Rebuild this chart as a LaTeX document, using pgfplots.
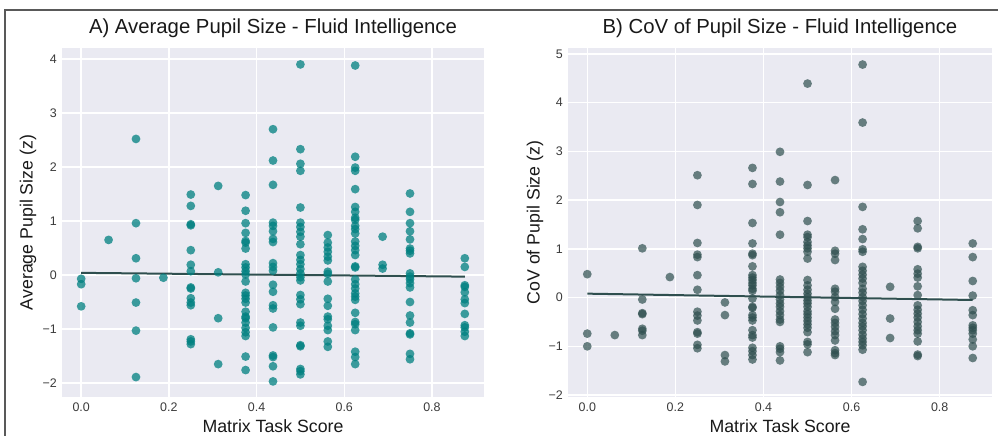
\documentclass[border=0pt]{standalone}
\usepackage{fontspec}
\setmainfont{Liberation Sans}
\usepackage{pgfplots}
\pgfplotsset{compat=1.18}
\usepackage{pgfplotstable}
\definecolor{bg}{HTML}{EAEAF2}
\definecolor{dsg}{HTML}{2F4F4F}
\definecolor{tealc}{HTML}{008080}
\definecolor{txt}{HTML}{3A3A3A}

\pgfplotstableread{
x y
0 -0.07
0 -0.17
0 -0.58
0.0625 0.65
0.125 2.52
0.125 0.96
0.125 0.31
0.125 -0.06
0.125 -0.51
0.125 -1.03
0.125 -1.89
0.1875 -0.05
0.25 1.49
0.25 1.28
0.25 0.94
0.25 0.92
0.25 0.46
0.25 0.19
0.25 0.07
0.25 -0.23
0.25 -0.25
0.25 -0.43
0.25 -0.51
0.25 -0.56
0.25 -1.19
0.25 -1.23
0.25 -1.28
0.3125 1.65
0.3125 0.05
0.3125 -0.80
0.3125 -1.65
0.375 1.48
0.375 1.19
0.375 0.96
0.375 0.78
0.375 0.63
0.375 0.60
0.375 0.49
0.375 0.20
0.375 0.14
0.375 0.07
0.375 0.01
0.375 -0.12
0.375 -0.33
0.375 -0.38
0.375 -0.44
0.375 -0.51
0.375 -0.68
0.375 -0.77
0.375 -0.80
0.375 -0.88
0.375 -0.98
0.375 -1.06
0.375 -1.13
0.375 -1.51
0.375 -1.76
0.4375 2.70
0.4375 2.12
0.4375 1.67
0.4375 0.97
0.4375 0.91
0.4375 0.81
0.4375 0.67
0.4375 0.61
0.4375 0.22
0.4375 0.15
0.4375 0.08
0.4375 -0.18
0.4375 -0.31
0.4375 -0.56
0.4375 -0.62
0.4375 -0.97
0.4375 -1.49
0.4375 -1.52
0.4375 -1.69
0.4375 -1.97
0.5 3.90
0.5 2.33
0.5 2.06
0.5 1.93
0.5 1.25
0.5 0.97
0.5 0.89
0.5 0.80
0.5 0.71
0.5 0.57
0.5 0.37
0.5 0.28
0.5 0.20
0.5 0.11
0.5 0.03
0.5 -0.04
0.5 -0.10
0.5 -0.37
0.5 -0.45
0.5 -0.54
0.5 -0.88
0.5 -0.94
0.5 -1.30
0.5 -1.32
0.5 -1.74
0.5 -1.78
0.5 -1.84
0.5625 0.74
0.5625 0.60
0.5625 0.51
0.5625 0.43
0.5625 0.34
0.5625 0.27
0.5625 0.06
0.5625 0.02
0.5625 -0.12
0.5625 -0.44
0.5625 -0.57
0.5625 -0.77
0.5625 -0.82
0.5625 -0.94
0.5625 -1.02
0.5625 -1.23
0.5625 -1.33
0.625 3.88
0.625 2.19
0.625 1.99
0.625 1.93
0.625 1.59
0.625 1.26
0.625 1.17
0.625 1.06
0.625 1.02
0.625 0.91
0.625 0.85
0.625 0.77
0.625 0.62
0.625 0.54
0.625 0.46
0.625 0.37
0.625 0.16
0.625 0.14
0.625 -0.08
0.625 -0.17
0.625 -0.25
0.625 -0.34
0.625 -0.40
0.625 -0.46
0.625 -0.70
0.625 -0.87
0.625 -0.91
0.625 -1.02
0.625 -1.42
0.625 -1.52
0.625 -1.65
0.6875 0.71
0.6875 0.19
0.6875 0.12
0.75 1.51
0.75 1.17
0.75 0.96
0.75 0.81
0.75 0.66
0.75 0.49
0.75 0.45
0.75 0.40
0.75 0.03
0.75 -0.03
0.75 -0.08
0.75 -0.15
0.75 -0.23
0.75 -0.50
0.75 -0.75
0.75 -0.88
0.75 -1.08
0.75 -1.10
0.75 -1.46
0.75 -1.56
0.875 0.31
0.875 0.15
0.875 -0.19
0.875 -0.22
0.875 -0.32
0.875 -0.45
0.875 -0.52
0.875 -0.72
0.875 -0.93
0.875 -0.97
0.875 -1.05
0.875 -1.13
}\dataA

\pgfplotstableread{
x y
0 0.48
0 -0.74
0 -1.00
0.0625 -0.77
0.125 1.01
0.125 -0.04
0.125 -0.32
0.125 -0.34
0.125 -0.64
0.125 -0.68
0.125 -0.77
0.1875 0.42
0.25 2.51
0.25 1.90
0.25 1.12
0.25 0.88
0.25 0.83
0.25 0.46
0.25 0.16
0.25 -0.29
0.25 -0.37
0.25 -0.47
0.25 -0.71
0.25 -0.74
0.25 -0.97
0.25 -1.04
0.3125 -0.10
0.3125 -0.36
0.3125 -1.18
0.3125 -1.31
0.375 2.66
0.375 2.33
0.375 1.53
0.375 1.11
0.375 0.90
0.375 0.87
0.375 0.64
0.375 0.46
0.375 0.41
0.375 0.36
0.375 0.30
0.375 0.25
0.375 0.18
0.375 0.14
0.375 -0.02
0.375 -0.19
0.375 -0.21
0.375 -0.36
0.375 -0.41
0.375 -0.47
0.375 -0.67
0.375 -0.77
0.375 -0.82
0.375 -1.03
0.375 -1.10
0.375 -1.18
0.375 -1.27
0.4375 2.99
0.4375 2.38
0.4375 1.96
0.4375 1.75
0.4375 1.29
0.4375 0.37
0.4375 0.30
0.4375 0.22
0.4375 0.14
0.4375 0.05
0.4375 -0.04
0.4375 -0.12
0.4375 -0.19
0.4375 -0.28
0.4375 -0.36
0.4375 -0.45
0.4375 -0.50
0.4375 -1.00
0.4375 -1.05
0.4375 -1.12
0.4375 -1.29
0.5 4.39
0.5 2.31
0.5 1.57
0.5 1.29
0.5 1.24
0.5 1.14
0.5 1.07
0.5 1.01
0.5 0.94
0.5 0.80
0.5 0.36
0.5 0.25
0.5 0.16
0.5 0.08
0.5 0.01
0.5 -0.06
0.5 -0.12
0.5 -0.19
0.5 -0.28
0.5 -0.34
0.5 -0.41
0.5 -0.48
0.5 -0.55
0.5 -0.62
0.5 -0.71
0.5 -0.91
0.5 -0.96
0.5 -1.12
0.5625 2.41
0.5625 0.96
0.5625 0.90
0.5625 0.77
0.5625 0.18
0.5625 0.12
0.5625 0.01
0.5625 -0.09
0.5625 -0.23
0.5625 -0.45
0.5625 -0.52
0.5625 -0.60
0.5625 -0.69
0.5625 -0.77
0.5625 -0.88
0.5625 -1.08
0.5625 -1.14
0.5625 -1.18
0.625 4.78
0.625 3.59
0.625 1.86
0.625 1.40
0.625 1.20
0.625 0.99
0.625 0.94
0.625 0.63
0.625 0.55
0.625 0.47
0.625 0.39
0.625 0.30
0.625 0.18
0.625 0.10
0.625 0.01
0.625 -0.07
0.625 -0.16
0.625 -0.25
0.625 -0.34
0.625 -0.43
0.625 -0.52
0.625 -0.59
0.625 -0.67
0.625 -0.76
0.625 -0.84
0.625 -0.91
0.625 -0.98
0.625 -1.07
0.625 -1.73
0.6875 0.22
0.6875 -0.43
0.6875 -0.83
0.75 1.57
0.75 1.42
0.75 1.04
0.75 1.01
0.75 0.58
0.75 0.49
0.75 0.41
0.75 0.23
0.75 0.05
0.75 -0.16
0.75 -0.25
0.75 -0.33
0.75 -0.41
0.75 -0.50
0.75 -0.59
0.75 -0.67
0.75 -0.74
0.75 -0.90
0.75 -1.17
0.75 -1.20
0.875 1.11
0.875 0.83
0.875 0.34
0.875 0.04
0.875 -0.26
0.875 -0.36
0.875 -0.57
0.875 -0.62
0.875 -0.67
0.875 -0.74
0.875 -0.86
0.875 -1.00
0.875 -1.24
}\dataB

\pgfplotsset{mystyle/.style={
  scale only axis,
  height=349bp,
  axis background/.style={fill=bg},
  axis line style={draw=none},
  major tick style={draw=none},
  grid=major,
  grid style={white, line width=1.4bp},
  xmin=-0.04375, xmax=0.91875,
  xtick={0,0.2,0.4,0.6,0.8},
  xticklabels={0.0,0.2,0.4,0.6,0.8},
  /pgf/number format/assume math mode=true,
  ticklabel style={font=\fontsize{12.5}{14}\selectfont, text=txt},
  xticklabel style={anchor=north, inner sep=0pt, yshift=-5.5bp},
  yticklabel style={anchor=east, inner sep=0pt, xshift=-5bp},
  title style={font=\fontsize{20.4}{24}\selectfont, text=black!90, anchor=center, at={(axis description cs:0.5,1.0401)}},
  xlabel style={font=\fontsize{17.8}{20}\selectfont, text=black!90, anchor=center, at={(axis description cs:0.5,-0.083)}},
  ylabel style={font=\fontsize{17.8}{20}\selectfont, text=black!90, anchor=center},
  clip=false,
}}

\begin{document}
\begin{tikzpicture}
\path[use as bounding box] (0,0) rectangle (998bp,436bp);
\draw[line width=1.5bp, color=black!65] (5bp,0) -- (5bp,426bp) -- (998bp,426bp);

\begin{axis}[mystyle,
  at={(62bp,39bp)}, anchor=south west,
  width=422bp,
  ymin=-2.259, ymax=4.204,
  ytick={-2,-1,0,1,2,3,4},
  yticklabels={−2,−1,0,1,2,3,4},
  title={A) Average Pupil Size - Fluid Intelligence},
  xlabel={Matrix Task Score},
  ylabel={Average Pupil Size (z)},
  ylabel style={at={(axis description cs:-0.0806,0.5)}},
]
\addplot[tealc, only marks, mark=*, mark size=4.4bp, mark options={line width=0pt, draw opacity=0, fill=tealc, fill opacity=0.75}] table {\dataA};
\addplot[dsg, line width=2bp, no marks] coordinates {(0,0.04) (0.875,-0.03)};
\end{axis}

\begin{axis}[mystyle,
  at={(568bp,39bp)}, anchor=south west,
  width=424bp,
  ymin=-2.04, ymax=5.12,
  ytick={-2,-1,0,1,2,3,4,5},
  yticklabels={−2,−1,0,1,2,3,4,5},
  title={B) CoV of Pupil Size - Fluid Intelligence},
  xlabel={Matrix Task Score},
  ylabel={CoV of Pupil Size (z)},
  ylabel style={at={(axis description cs:-0.0778,0.5)}},
]
\addplot[dsg, only marks, mark=*, mark size=4.4bp, mark options={line width=0pt, draw opacity=0, fill=dsg, fill opacity=0.7}] table {\dataB};
\addplot[dsg, line width=2bp, no marks] coordinates {(0,0.08) (0.875,-0.05)};
\end{axis}
\end{tikzpicture}
\end{document}
